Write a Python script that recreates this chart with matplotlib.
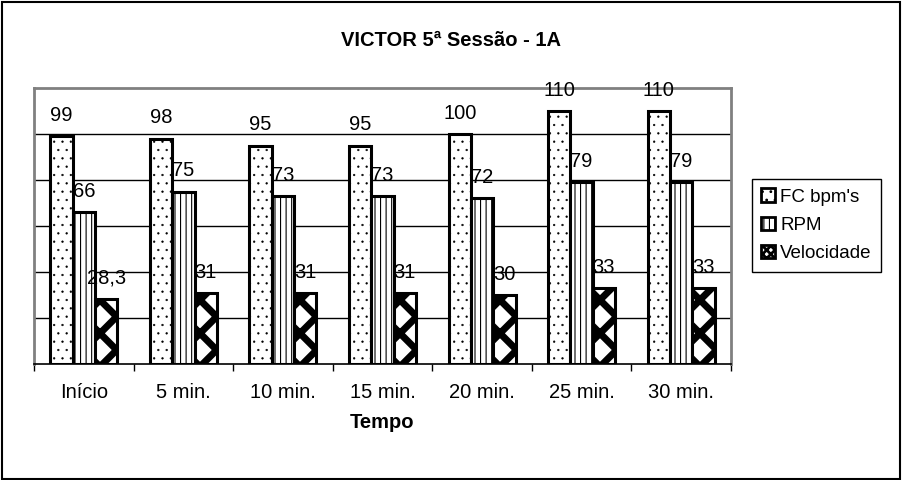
import numpy as np
import matplotlib
matplotlib.use('Agg')
import matplotlib.pyplot as plt
from matplotlib.patches import Rectangle

plt.rcParams['font.family'] = ['Liberation Sans', 'DejaVu Sans']
plt.rcParams['hatch.linewidth'] = 0.8

# dados
categorias = ['Início', '5 min.', '10 min.', '15 min.', '20 min.', '25 min.', '30 min.']
fc_bpm = [99, 98, 95, 95, 100, 110, 110]
rpm = [66, 75, 73, 73, 72, 79, 79]
velocidade = [28.3, 31, 31, 31, 30, 33, 33]
rotulos_vel = ['28,3', '31', '31', '31', '30', '33', '33']

fig = plt.figure(figsize=(9.02, 4.8), dpi=100)
ax = fig.add_axes([34/902, 1-364/480, (731-34)/902, (364-88)/480])

x = np.arange(len(categorias))
w = 0.224

b1 = ax.bar(x - w, fc_bpm, w, color='white', edgecolor='black', linewidth=2.2, hatch='..', label="FC bpm's", zorder=3)
b2 = ax.bar(x, rpm, w, color='white', edgecolor='black', linewidth=2.2, hatch='|||', label='RPM', zorder=3)
b3 = ax.bar(x + w, velocidade, w, color='white', edgecolor='black', linewidth=2.2, hatch='x', label='Velocidade', zorder=3)
for p in b1:
    if hasattr(p, 'set_hatch_linewidth'):
        p.set_hatch_linewidth(0.4)
for p in b3:
    if hasattr(p, 'set_hatch_linewidth'):
        p.set_hatch_linewidth(5)

# rotulos
for bars, labs in [(b1, [str(v) for v in fc_bpm]), (b2, [str(v) for v in rpm]), (b3, rotulos_vel)]:
    for p, t in zip(bars, labs):
        ax.annotate(t, (p.get_x() + p.get_width()/2, p.get_height()), xytext=(0, 8),
                    textcoords='offset points', ha='center', va='bottom', fontsize=14.5)

ax.set_ylim(0, 120)
ax.set_xlim(-0.5, 6.5)
ax.set_yticks([20, 40, 60, 80, 100])
ax.yaxis.grid(True, color='black', linewidth=1)
ax.tick_params(axis='y', length=0, labelleft=False)
ax.set_xticks(x)
ax.set_xticklabels(categorias, fontsize=14.5)
ax.set_xticks(np.arange(-0.5, 7, 1), minor=True)
ax.tick_params(axis='x', which='major', length=0, pad=13.5)
ax.tick_params(axis='x', which='minor', length=5, width=1)
ax.set_xlabel('Tempo', fontsize=14.5, fontweight='bold', labelpad=8)

for s in ['top', 'right', 'left']:
    ax.spines[s].set_color('#808080')
    ax.spines[s].set_linewidth(2)
ax.spines['bottom'].set_linewidth(1.2)

fig.suptitle('VICTOR 5ª Sessão - 1A', x=0.5, y=1-40/480, va='center', fontsize=14.5, fontweight='bold')

leg = fig.legend(handles=[b1, b2, b3], loc='upper left', bbox_to_anchor=(752/902, 1-179/480),
                 fontsize=13.5, frameon=True, fancybox=False, edgecolor='black', framealpha=1,
                 borderaxespad=0, handlelength=0.7, handleheight=0.7, handletextpad=0.3,
                 labelspacing=0.6, borderpad=0.5)
leg.get_frame().set_linewidth(1)
for h in leg.legend_handles:
    h.set_linewidth(2)
leg.legend_handles[2].set_hatch('xxxx')
if hasattr(leg.legend_handles[2], 'set_hatch_linewidth'):
    leg.legend_handles[2].set_hatch_linewidth(2)

fig.patches.append(Rectangle((2/902, 1/480), 898/902, 477/480, transform=fig.transFigure,
                             fill=False, edgecolor='black', linewidth=1.5))

plt.savefig('out.png', dpi=100)
